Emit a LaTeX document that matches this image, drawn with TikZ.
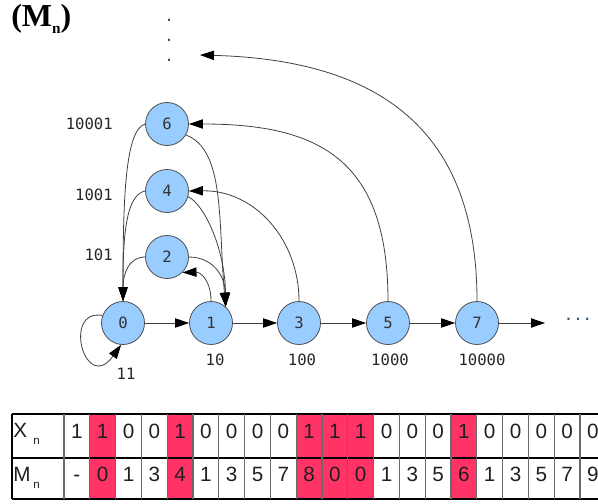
\documentclass[tikz,border=0pt]{standalone}
\usepackage{fontspec}
\setmainfont{Liberation Serif}
\newfontfamily\monofam{DejaVu Sans Mono}
\newfontfamily\tabfam{Liberation Sans}
\usetikzlibrary{arrows.meta}
\definecolor{statefill}{HTML}{99CCFF}
\definecolor{stateline}{HTML}{4D4D4D}
\definecolor{hitred}{HTML}{FF3366}
\definecolor{gridgrey}{HTML}{6A6A6A}
\definecolor{dotblue}{HTML}{2E4A6B}
\begin{document}
\begin{tikzpicture}[x=0.75pt,y=-0.75pt,
  state/.style={circle,draw=stateline,line width=0.6pt,fill=statefill,
    minimum size=32.25pt,inner sep=0pt,
    font=\monofam\fontsize{11.7}{14}\selectfont,text=black!80},
  code/.style={font=\monofam\fontsize{11.7}{14}\selectfont,text=black!85,inner sep=0pt},
  dotmark/.style={font=\monofam\fontsize{11.7}{14}\selectfont,text=dotblue,inner sep=0pt,anchor=base},
  edge/.style={draw=black!75,line width=0.6pt,
    -{Triangle[length=10.5pt,width=7pt,color=black]}},
  cell/.style={font=\tabfam\fontsize{15.5}{18}\selectfont,text=black!88,anchor=base,inner sep=0pt},
  subcell/.style={font=\tabfam\fontsize{8.7}{10}\selectfont,text=black!88,anchor=base west,inner sep=0pt},
  hline/.style={draw=black,line width=1.1pt},
  vline/.style={draw=gridgrey,line width=1.0pt},
]
\useasboundingbox (0,0) rectangle (598,503);
\clip (0,0) rectangle (598,503);

% title
\node[anchor=base west,inner sep=0pt] (title) at (11,27)
  {\fontsize{24}{29}\selectfont\bfseries (M\raisebox{-5.25pt}{\fontsize{11.5}{13}\selectfont n})};

% vertical ellipsis above the states
\node[dotmark] (vd1) at (169,22) {.};
\node[dotmark] (vd2) at (169,42) {.};
\node[dotmark] (vd3) at (169,61) {.};
\coordinate (up) at (200,55);

% states
\node[state] (n0) at (123,323) {0};
\node[state] (n1) at (211,323) {1};
\node[state] (n3) at (299,323) {3};
\node[state] (n5) at (388,323) {5};
\node[state] (n7) at (477,323) {7};
\node[state] (n2) at (167,257) {2};
\node[state] (n4) at (167,191) {4};
\node[state] (n6) at (167,124) {6};

% binary codes
\node[code,anchor=east] (c6) at (113,124) {10001};
\node[code,anchor=east] (c4) at (113,195) {1001};
\node[code,anchor=east] (c2) at (113,255) {101};
\node[code] (c0) at (126,374) {11};
\node[code] (c1) at (215,360) {10};
\node[code] (c3) at (302,360) {100};
\node[code] (c5) at (390,360) {1000};
\node[code] (c7) at (482,360) {10000};

% horizontal ellipsis on the right
\node[dotmark] (hd) at (578,320) {...};
\coordinate (rt) at (545,323);

% main chain
\draw[edge] (n0) -- (n1);
\draw[edge] (n1) -- (n3);
\draw[edge] (n3) -- (n5);
\draw[edge] (n5) -- (n7);
\draw[edge] (n7) -- (rt);

% self loop
\draw[edge] (n0.160) .. controls (62,308) and (85,395) .. (n0.-95);

% returns to state 0
\draw[edge] (n2.west) .. controls (128,257) and (123,275) .. (n0.north);
\draw[edge] (n4.west) .. controls (125,195) and (123,240) .. (n0.north);
\draw[edge] (n6.west) .. controls (125,130) and (123,200) .. (n0.north);

% returns to state 1
\draw[edge] (n2.east) .. controls (212,257) and (225,275) .. (n1.48);
\draw[edge] (n4.-15) .. controls (205,205) and (225,250) .. (n1.48);
\draw[edge] (n6.-30) .. controls (225,150) and (218,220) .. (n1.48);

% upward arcs
\draw[edge] (n1.north) .. controls (211,280) and (200,272) .. (n2.-45);
\draw[edge] (n3.north) .. controls (299,240) and (255,190) .. (n4.east);
\draw[edge] (n5.north) .. controls (388,160) and (320,124) .. (n6.east);
\draw[edge] (n7.north) .. controls (477,130) and (380,60) .. (up);

% table: highlighted columns
\foreach \k in {1,4,9,10,11,15}
  \fill[hitred] ({64+25.8*\k},414) rectangle ({64+25.8*(\k+1)},499);

% table: grid
\draw[hline] (12,414) -- (610,414);
\draw[hline] (12,458) -- (610,458);
\draw[hline] (12,499) -- (610,499);
\draw[draw=black,line width=1.1pt] (12,414) -- (12,499);
\foreach \k in {0,...,21}
  \draw[vline] ({64+25.8*\k},414) -- ({64+25.8*\k},499);

% table: row labels
\node[cell,anchor=base west] (xl) at (13,437) {X};
\node[subcell] (xs) at (33,444) {n};
\node[cell,anchor=base west] (ml) at (13,481) {M};
\node[subcell] (ms) at (33,488) {n};

% table: values
\foreach \v [count=\i from 0] in {1,1,0,0,1,0,0,0,0,1,1,1,0,0,0,1,0,0,0,0,0}
  \node[cell] (x\i) at ({64+25.8*\i+12.9},438) {\v};
\foreach \v [count=\i from 0] in {-,0,1,3,4,1,3,5,7,8,0,0,1,3,5,6,1,3,5,7,9}
  \node[cell] (m\i) at ({64+25.8*\i+12.9},481) {\v};
\end{tikzpicture}
\end{document}
